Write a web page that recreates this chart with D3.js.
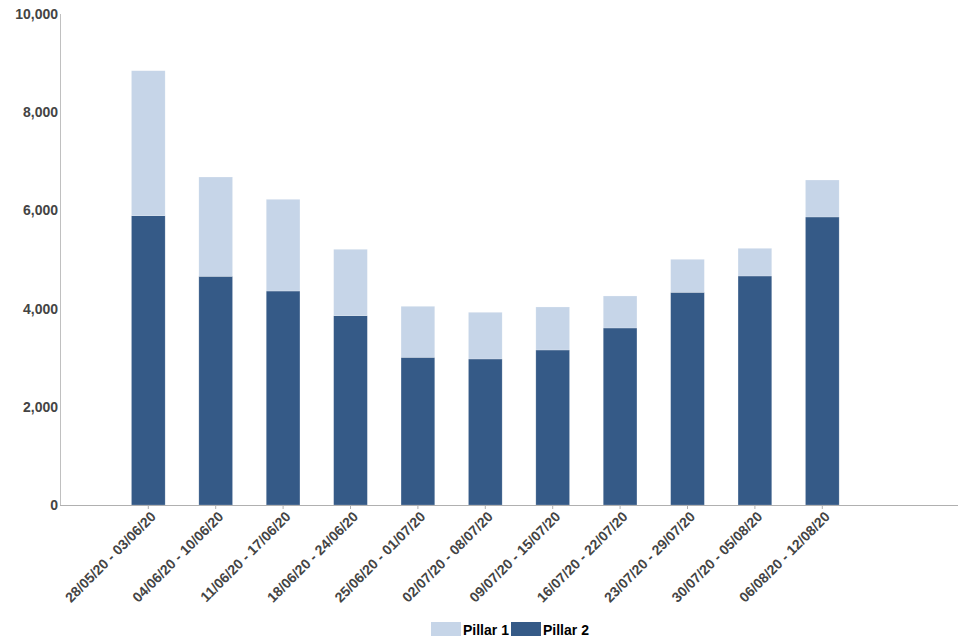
<!DOCTYPE html>
<html><head><meta charset="utf-8">
<script src="https://cdn.jsdelivr.net/npm/d3@7"></script>
<style>body{margin:0;background:#fff}</style>
</head><body>
<svg id="c" width="960" height="640"></svg>
<script>
const categories = ["28/05/20 - 03/06/20","04/06/20 - 10/06/20","11/06/20 - 17/06/20","18/06/20 - 24/06/20","25/06/20 - 01/07/20","02/07/20 - 08/07/20","09/07/20 - 15/07/20","16/07/20 - 22/07/20","23/07/20 - 29/07/20","30/07/20 - 05/08/20","06/08/20 - 12/08/20"];
const pillar2 = [5892,4658,4358,3855,3008,2974,3157,3605,4332,4664,5866];
const pillar1 = [2953,2022,1868,1353,1039,951,876,652,672,564,753];
const yTicks = [0,2000,4000,6000,8000,10000];
const seriesNames = ["Pillar 1","Pillar 2"];
const colors = {"Pillar 1":"#c6d5e8","Pillar 2":"#355a87"};

const svg = d3.select("#c");
const font = "'Liberation Sans', Arial, sans-serif";
const y = d3.scaleLinear().domain([0,10000]).range([505,14]);
const x = d3.scaleBand().domain(categories).range([114.6,856]).paddingInner(0.5).paddingOuter(0.25);

const rows = categories.map((c,i)=>({cat:c,"Pillar 2":pillar2[i],"Pillar 1":pillar1[i]}));
const stack = d3.stack().keys(["Pillar 2","Pillar 1"])(rows);

svg.append("g").selectAll("g").data(stack).join("g")
  .attr("fill", d=>colors[d.key])
  .selectAll("rect").data(d=>d).join("rect")
  .attr("x", d=>x(d.data.cat)).attr("width", x.bandwidth())
  .attr("y", d=>y(d[1])).attr("height", d=>y(d[0])-y(d[1]))
  .attr("stroke","#ffffff").attr("stroke-opacity",0.35).attr("stroke-width",0.6);

// y axis
svg.append("line").attr("x1",60.5).attr("x2",60.5).attr("y1",14).attr("y2",505).attr("stroke","#c0c0c0");
svg.append("g").selectAll("text").data(yTicks).join("text")
  .attr("x",58).attr("y",d=>y(d)+5).attr("text-anchor","end")
  .attr("font-family",font).attr("font-weight","bold").attr("font-size",14).attr("fill","#444")
  .text(d=>d3.format(",")(d));

// x axis
svg.append("line").attr("x1",60).attr("x2",958).attr("y1",505.5).attr("y2",505.5).attr("stroke","#b0b0b0");
svg.append("g").selectAll("line").data(categories).join("line")
  .attr("x1",d=>x(d)+x.bandwidth()/2).attr("x2",d=>x(d)+x.bandwidth()/2)
  .attr("y1",505).attr("y2",509).attr("stroke","#b0b0b0");
svg.append("g").selectAll("text").data(categories).join("text")
  .attr("transform",d=>`translate(${x(d)+x.bandwidth()/2+5},${514}) rotate(-45)`)
  .attr("text-anchor","end").attr("dy","0.35em")
  .attr("font-family",font).attr("font-weight","bold").attr("font-size",14).attr("fill","#444")
  .text(d=>d);

// legend
const lg = svg.append("g");
const legendX = [431, 511];
seriesNames.forEach((s,i)=>{
  lg.append("rect").attr("x",legendX[i]).attr("y",622).attr("width",30).attr("height",14).attr("fill",colors[s]);
  lg.append("text").attr("x",legendX[i]+32).attr("y",634.5)
    .attr("font-family",font).attr("font-weight","bold").attr("font-size",14).attr("fill","#000").text(s);
});
</script>
</body></html>
